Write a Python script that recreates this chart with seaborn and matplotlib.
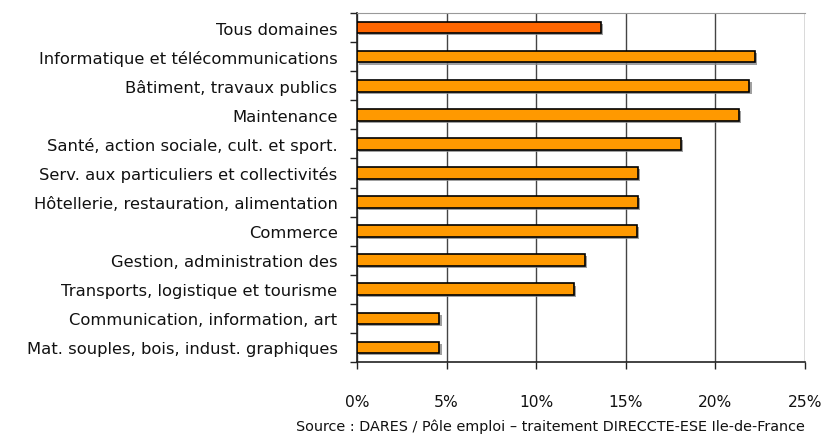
import numpy as np
import matplotlib
matplotlib.use("Agg")
import matplotlib.pyplot as plt
import matplotlib.patheffects as pe
from matplotlib.ticker import FixedLocator, PercentFormatter
import seaborn as sns

categories = [
    "Tous domaines",
    "Informatique et télécommunications",
    "Bâtiment, travaux publics",
    "Maintenance",
    "Santé, action sociale, cult. et sport.",
    "Serv. aux particuliers et collectivités",
    "Hôtellerie, restauration, alimentation",
    "Commerce",
    "Gestion, administration des",
    "Transports, logistique et tourisme",
    "Communication, information, art",
    "Mat. souples, bois, indust. graphiques",
]
values = [13.6, 22.2, 21.9, 21.3, 18.1, 15.7, 15.7, 15.6, 12.7, 12.1, 4.6, 4.6]
groups = ["total"] + ["famille"] * 11
palette = {"total": "#FF6600", "famille": "#FF9900"}

sns.set_style("white")
plt.rcParams["font.family"] = ["DejaVu Sans"]

fig = plt.figure(figsize=(8.28, 4.39), dpi=100)
ax = fig.add_axes([357 / 828, 1 - 363 / 439, 448 / 828, 349 / 439])

sns.barplot(x=values, y=categories, hue=groups, palette=palette, orient="h",
            width=0.4, edgecolor="black", linewidth=1.2, dodge=False, saturation=1,
            legend=False, ax=ax, zorder=3)

for bar in ax.patches:
    bar.set_path_effects([pe.SimplePatchShadow(offset=(1.5, -1.5), shadow_rgbFace="#888888", alpha=0.8),
                          pe.Normal()])

ax.set_xlim(0, 25)
ax.set_ylim(len(categories) - 0.5, -0.5)
ax.xaxis.set_major_locator(FixedLocator([0, 5, 10, 15, 20, 25]))
ax.xaxis.set_major_formatter(PercentFormatter(decimals=0))
ax.grid(axis="x", color="#444444", linewidth=1, zorder=0)
ax.set_axisbelow(True)

ax.yaxis.set_minor_locator(FixedLocator(np.arange(-0.5, len(categories), 1)))
ax.tick_params(axis="y", which="major", length=0, pad=14, labelsize=11.8, labelcolor="#111111")
ax.tick_params(axis="y", which="minor", left=True, length=5, width=1, color="#222222")
ax.tick_params(axis="x", which="major", bottom=True, direction="out", length=5, width=1,
               color="#222222", pad=18, labelsize=11.2, labelcolor="#111111")

for side in ["left", "bottom"]:
    ax.spines[side].set_color("#222222")
    ax.spines[side].set_linewidth(1.2)
ax.spines["top"].set_color("#999999")
ax.spines["right"].set_visible(False)
ax.set_xlabel("")
ax.set_ylabel("")

fig.text(805 / 828, 1 - 427 / 439, "Source : DARES / Pôle emploi – traitement DIRECCTE-ESE Ile-de-France",
         ha="right", va="center", fontsize=10.4, color="#111111")

fig.savefig("out.png", dpi=100)
